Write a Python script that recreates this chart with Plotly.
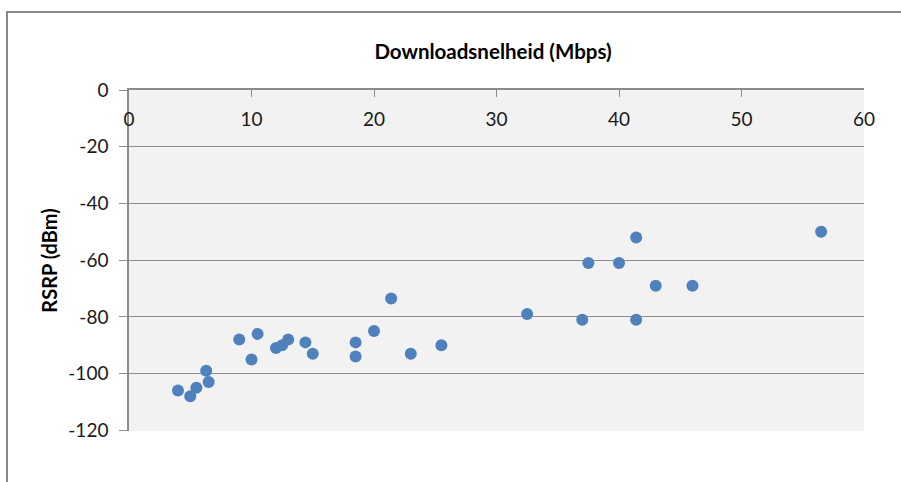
import plotly.graph_objects as go

speed = [4, 5, 5.5, 6.3, 6.5, 9, 10, 10.5, 12, 12.5, 13, 14.4, 15, 18.5, 18.5, 20, 21.4, 23, 25.5,
         32.5, 37, 37.5, 40, 41.4, 41.4, 43, 46, 56.5]
rsrp = [-106, -108, -105, -99, -103, -88, -95, -86, -91, -90, -88, -89, -93, -89, -94, -85, -73.5, -93, -90,
        -79, -81, -61, -61, -81, -52, -69, -69, -50]

x_ticks = [0, 10, 20, 30, 40, 50, 60]
y_ticks = [0, -20, -40, -60, -80, -100, -120]

title_text = "Downloadsnelheid (Mbps)"
y_title = "RSRP (dBm)"

FONT = "Lato, Calibri, Carlito, sans-serif"
GRAY = "#8c8c8c"
TXT = "#1a1a1a"

fig = go.Figure()
fig.add_trace(go.Scatter(
    x=speed, y=rsrp, mode="markers",
    marker=dict(color="#4F81BD", size=12, line=dict(width=0)),
    showlegend=False,
))

fig.update_layout(
    width=901, height=482,
    margin=dict(l=129, r=37, t=90, b=51),
    paper_bgcolor="white",
    plot_bgcolor="#F2F2F2",
    font=dict(family=FONT, color=TXT, size=19),
    title=dict(text="<b>" + title_text + "</b>", x=493 / 901, xanchor="center",
               y=1 - 52 / 482, yanchor="middle", font=dict(size=20.5, family=FONT, color="#000000")),
    xaxis=dict(
        range=[0, 60], side="top", tickvals=x_ticks, showticklabels=False,
        showgrid=False, zeroline=False, showline=True, linecolor=GRAY, linewidth=1.5,
        ticks="inside", ticklen=7, tickcolor=GRAY, tickwidth=1,
    ),
    xaxis2=dict(
        range=[0, 60], overlaying="x", side="bottom", anchor="free",
        position=(431 - 106) / 341, tickvals=x_ticks, ticktext=[str(v) for v in x_ticks],
        showgrid=False, zeroline=False, showline=False, ticks="",
        tickfont=dict(size=19, family=FONT, color=TXT),
    ),
    yaxis=dict(
        range=[-120.25, 0], tickvals=y_ticks, ticktext=[str(v) for v in y_ticks],
        showgrid=True, gridcolor=GRAY, gridwidth=1, zeroline=False,
        showline=True, linecolor=GRAY, linewidth=1.5,
        ticks="outside", ticklen=8, tickcolor=GRAY, tickwidth=1,
        ticklabelstandoff=7,
        tickfont=dict(size=19, family=FONT, color=TXT),
        title=dict(text="<b>" + y_title + "</b>", standoff=5,
                   font=dict(size=20, family=FONT, color="#000000")),
    ),
    shapes=[dict(type="rect", xref="paper", yref="paper",
                 x0=(7 - 129) / 735, x1=1.2, y0=-0.3, y1=(431 - 12) / 341,
                 line=dict(color="#888888", width=2), fillcolor="rgba(0,0,0,0)", layer="below")],
)

# invisible trace so xaxis2 is rendered with its own scale
fig.add_trace(go.Scatter(x=[], y=[], xaxis="x2", yaxis="y", showlegend=False, hoverinfo="skip"))

fig.write_html("out.html", config={"displayModeBar": False},
               post_script="document.body.style.margin='0px';")
